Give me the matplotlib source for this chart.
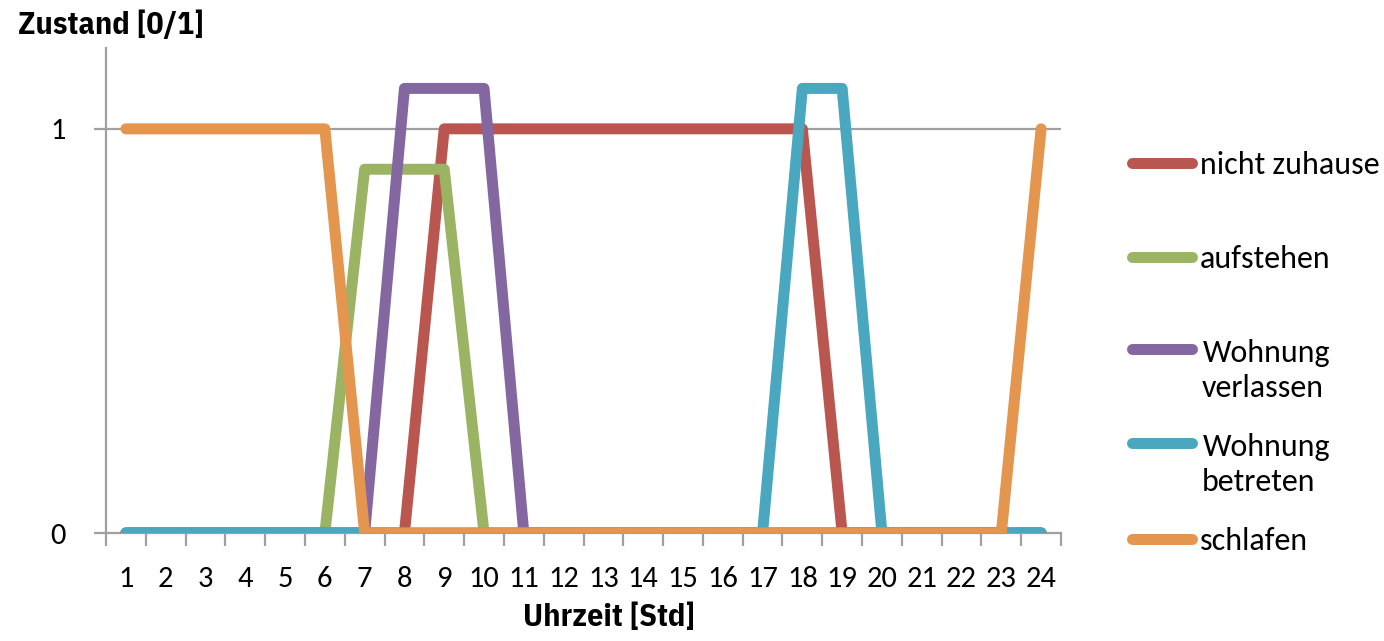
import matplotlib
matplotlib.use("Agg")
import matplotlib.pyplot as plt
from matplotlib.lines import Line2D

hours = list(range(1, 25))

nicht_zuhause = [0, 0, 0, 0, 0, 0, 0, 0, 1, 1, 1, 1, 1, 1, 1, 1, 1, 1, 0, 0, 0, 0, 0, 0]
aufstehen = [0, 0, 0, 0, 0, 0, 0.9, 0.9, 0.9, 0, 0, 0, 0, 0, 0, 0, 0, 0, 0, 0, 0, 0, 0, 0]
wohnung_verlassen = [0, 0, 0, 0, 0, 0, 0, 1.1, 1.1, 1.1, 0, 0, 0, 0, 0, 0, 0, 0, 0, 0, 0, 0, 0, 0]
wohnung_betreten = [0, 0, 0, 0, 0, 0, 0, 0, 0, 0, 0, 0, 0, 0, 0, 0, 0, 1.1, 1.1, 0, 0, 0, 0, 0]
schlafen = [1, 1, 1, 1, 1, 1, 0, 0, 0, 0, 0, 0, 0, 0, 0, 0, 0, 0, 0, 0, 0, 0, 0, 1]

labels = ["nicht zuhause", "aufstehen", "Wohnung\nverlassen", "Wohnung\nbetreten", "schlafen"]
values = [nicht_zuhause, aufstehen, wohnung_verlassen, wohnung_betreten, schlafen]
colors = ["#BA5650", "#9BB463", "#8467A0", "#49A8BF", "#E4954E"]

font = ["Carlito", "Open Sans", "DejaVu Sans"]
bold_font = ["IBM Plex Sans Condensed", "Liberation Sans Narrow", "DejaVu Sans"]

LW = 7.9

fig = plt.figure(figsize=(13.84, 6.41), dpi=100)
ax = fig.add_axes([106 / 1384, 1 - 533 / 641, (1061 - 106) / 1384, (533 - 48) / 641])

for vals, color in zip(values, colors):
    ax.plot(hours, vals, color=color, lw=LW, solid_capstyle="round",
            solid_joinstyle="round", zorder=3)

ax.set_xlim(0.5, 24.5)
ax.set_ylim(0, 1.2)

ax.set_yticks([0, 1])
ax.set_yticklabels(["0", "1"], fontsize=22, family=font)
for t in ax.get_yticklabels():
    t.set_y(t.get_position()[1])
ax.axhline(1, color="#A0A0A0", lw=1.6, zorder=1)

ax.set_xticks(hours)
ax.set_xticklabels([str(h) for h in hours], fontsize=22, family=font)
ax.tick_params(axis="x", which="major", length=0, pad=24)
ax.set_xticks([h + 0.5 for h in range(0, 25)], minor=True)
ax.tick_params(axis="x", which="minor", length=9, width=1.6, color="#A0A0A0")
ax.tick_params(axis="y", length=9, width=1.6, color="#A0A0A0", pad=20)

for side in ("top", "right"):
    ax.spines[side].set_visible(False)
for side in ("left", "bottom"):
    ax.spines[side].set_color("#A0A0A0")
    ax.spines[side].set_linewidth(1.6)

fig.text(18 / 1384, 1 - 25 / 641, "Zustand [0/1]", fontsize=23, fontweight="bold",
         family=bold_font, ha="left", va="center")
fig.text(609 / 1384, 1 - 618 / 641, "Uhrzeit [Std]", fontsize=23, fontweight="bold",
         family=bold_font, ha="center", va="center")

# legend entries drawn at the right of the plot
legend_rows = [163, 257, 349, 443, 539]
for label, color, ypx in zip(labels, colors, legend_rows):
    y = 1 - ypx / 641
    fig.add_artist(Line2D([1132 / 1384, 1192 / 1384], [y, y], color=color, lw=LW,
                          solid_capstyle="round", transform=fig.transFigure))
    if "\n" in label:
        first, second = label.split("\n")
        fig.text(1203 / 1384, 1 - (ypx + 4) / 641, first, fontsize=23, family=font,
                 ha="left", va="center")
        fig.text(1202 / 1384, 1 - (ypx + 39) / 641, second, fontsize=23, family=font,
                 ha="left", va="center")
    else:
        fig.text(1200 / 1384, 1 - (ypx + 2) / 641, label, fontsize=23, family=font,
                 ha="left", va="center")

fig.savefig("out.png", dpi=100)
